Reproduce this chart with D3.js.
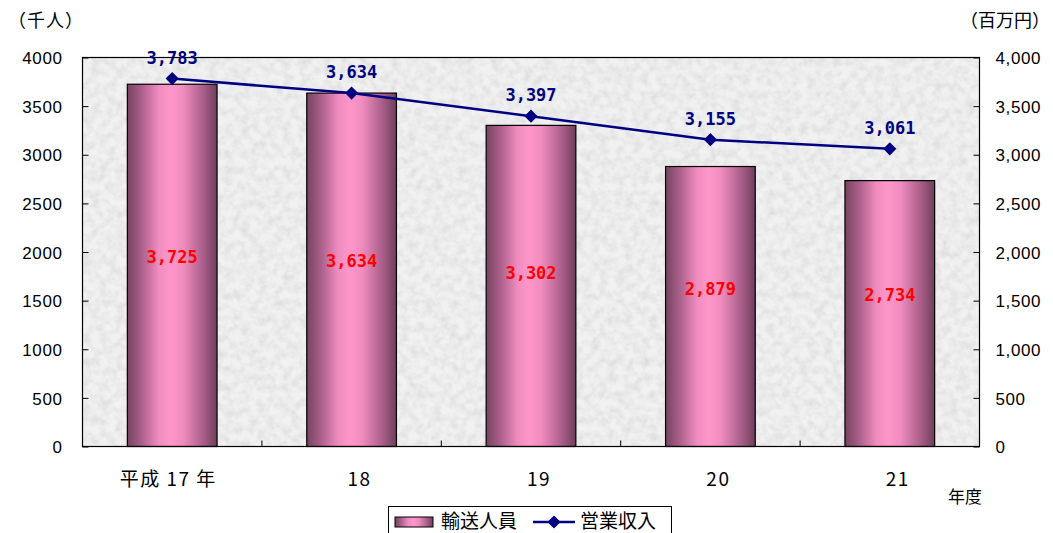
<!DOCTYPE html>
<html lang="ja">
<head>
<meta charset="utf-8">
<script src="https://cdn.jsdelivr.net/npm/d3@7"></script>
<style>
  html, body { margin: 0; padding: 0; background: #fff; }
  svg { display: block; }
  .tick text { font-family: "Liberation Sans", Arial, sans-serif; font-size: 17px; fill: #000; letter-spacing: 0.6px; }
  .jp { font-family: "Noto Sans CJK JP", sans-serif; fill: #000; }
  .lbl { font-family: "DejaVu Sans Mono", monospace; font-weight: bold; font-size: 17px; }
</style>
</head>
<body>
<svg id="chart" width="1053" height="533"></svg>
<script>
// 年度別 輸送人員（千人）と営業収入（百万円）
const years = ["平成 17 年", "18", "19", "20", "21"];
const passengers = [3725, 3634, 3302, 2879, 2734];   // 輸送人員
const revenue = [3783, 3634, 3397, 3155, 3061];      // 営業収入
const leftTicks = [0, 500, 1000, 1500, 2000, 2500, 3000, 3500, 4000];
const rightTicks = [0, 500, 1000, 1500, 2000, 2500, 3000, 3500, 4000];

const svg = d3.select("#chart");
const plot = { left: 82.5, right: 979.5, top: 57.5, bottom: 446.5 };

const x = d3.scaleBand().domain(years).range([plot.left, plot.right]).paddingInner(0.5).paddingOuter(0.25);
const xc = d3.scaleBand().domain(years).range([plot.left, plot.right]);
const yL = d3.scaleLinear().domain([0, 4000]).range([plot.bottom, plot.top]);
const yR = d3.scaleLinear().domain([0, 4000]).range([plot.bottom, plot.top]);

const defs = svg.append("defs");

// granite-like background texture
const f = defs.append("filter").attr("id", "granite").attr("x", 0).attr("y", 0).attr("width", 1).attr("height", 1);
f.append("feTurbulence").attr("type", "fractalNoise").attr("baseFrequency", 0.12).attr("numOctaves", 3).attr("seed", 7).attr("result", "n");
f.append("feColorMatrix").attr("in", "n").attr("type", "matrix")
  .attr("values", "0 0 0 0 0  0 0 0 0 0  0 0 0 0 0  1.4 0 0 0 -0.5").attr("result", "a");
f.append("feFlood").attr("flood-color", "#d6d6d6").attr("result", "c");
f.append("feComposite").attr("in", "c").attr("in2", "a").attr("operator", "in").attr("result", "spots");
f.append("feGaussianBlur").attr("in", "spots").attr("stdDeviation", 0.5).attr("result", "sb");
f.append("feMerge").call(m => { m.append("feMergeNode").attr("in", "SourceGraphic"); m.append("feMergeNode").attr("in", "sb"); });

// cylinder-style gradient for bars
const g = defs.append("linearGradient").attr("id", "barGrad").attr("x1", 0).attr("x2", 1).attr("y1", 0).attr("y2", 0);
[[0, "#76445f"], [0.15, "#a85d88"], [0.35, "#f08cbf"], [0.48, "#ff96ca"], [0.62, "#f08cbf"], [0.85, "#a85d88"], [1, "#6e3f59"]]
  .forEach(([o, c]) => g.append("stop").attr("offset", o).attr("stop-color", c));

// plot area
svg.append("rect")
  .attr("x", plot.left).attr("y", plot.top)
  .attr("width", plot.right - plot.left).attr("height", plot.bottom - plot.top)
  .attr("fill", "#f1f1f1").attr("filter", "url(#granite)");

// bars
svg.append("g").selectAll("rect").data(passengers).join("rect")
  .attr("x", (d, i) => x(years[i]))
  .attr("y", d => yL(d))
  .attr("width", x.bandwidth())
  .attr("height", d => yL(0) - yL(d))
  .attr("fill", "url(#barGrad)")
  .attr("stroke", "#000").attr("stroke-width", 1.2);

// plot border
svg.append("rect")
  .attr("x", plot.left).attr("y", plot.top)
  .attr("width", plot.right - plot.left).attr("height", plot.bottom - plot.top)
  .attr("fill", "none").attr("stroke", "#000").attr("stroke-width", 1.2);

// axes (ticks point inward)
const axL = svg.append("g").attr("transform", `translate(${plot.left},0)`)
  .call(d3.axisLeft(yL).tickValues(leftTicks).tickSize(-6).tickPadding(20).tickFormat(d3.format("d")));
const axR = svg.append("g").attr("transform", `translate(${plot.right},0)`)
  .call(d3.axisRight(yR).tickValues(rightTicks).tickSize(-6).tickPadding(16).tickFormat(d3.format(",")));
const xBreaks = years.slice(1).map(c => xc(c));
svg.append("g").selectAll("line").data(xBreaks).join("line")
  .attr("x1", d => d).attr("x2", d => d)
  .attr("y1", plot.bottom).attr("y2", plot.bottom - 6)
  .attr("stroke", "#000");
[axL, axR].forEach(a => { a.select(".domain").remove(); a.selectAll(".tick line").attr("stroke", "#000"); });
axL.selectAll(".tick text").attr("dy", "0.36em");
axR.selectAll(".tick text").attr("dy", "0.36em");

// category labels
svg.append("g").selectAll("text").data(years).join("text")
  .attr("x", (d, i) => xc(d) + xc.bandwidth() / 2 + (i === 0 ? -4 : 8))
  .attr("y", 486)
  .attr("text-anchor", "middle")
  .attr("class", "jp")
  .style("font-size", "19px")
  .style("letter-spacing", "1.5px")
  .text(d => d);

// line series
const cx = i => xc(years[i]) + xc.bandwidth() / 2;
svg.append("path")
  .datum(revenue)
  .attr("d", d3.line().x((d, i) => cx(i)).y(d => yR(d)))
  .attr("fill", "none").attr("stroke", "#000080").attr("stroke-width", 2.5);
svg.append("g").selectAll("path").data(revenue).join("path")
  .attr("transform", (d, i) => `translate(${cx(i)},${yR(d)})`)
  .attr("d", d3.symbol(d3.symbolDiamond2, 110))
  .attr("fill", "#000080");

// value labels
const fmt = d3.format(",");
svg.append("g").selectAll("text").data(revenue).join("text")
  .attr("class", "lbl")
  .attr("x", (d, i) => cx(i))
  .attr("y", d => yR(d) - 15)
  .attr("text-anchor", "middle")
  .attr("fill", "#000080")
  .text(d => fmt(d));
svg.append("g").selectAll("text").data(passengers).join("text")
  .attr("class", "lbl")
  .attr("x", (d, i) => cx(i))
  .attr("y", d => yL(d * 0.39) - 42)
  .attr("text-anchor", "middle")
  .attr("fill", "#ff0000")
  .text(d => fmt(d));

// axis titles
svg.append("text").attr("class", "jp").attr("x", 8).attr("y", 27).style("font-size", "18px").style("letter-spacing", "1px").text("（千人）");
svg.append("text").attr("class", "jp").attr("x", 960).attr("y", 27).style("font-size", "18px").text("（百万円）");
svg.append("text").attr("class", "jp").attr("x", 948).attr("y", 503).style("font-size", "17px").text("年度");

// legend
const lg = svg.append("g");
lg.append("rect").attr("x", 388.5).attr("y", 506.5).attr("width", 283).attr("height", 40)
  .attr("fill", "#fff").attr("stroke", "#000");
lg.append("rect").attr("x", 395).attr("y", 517).attr("width", 38).attr("height", 10)
  .attr("fill", "url(#barGrad)").attr("stroke", "#000");
lg.append("text").attr("class", "jp").attr("x", 441).attr("y", 528).style("font-size", "19px").text("輸送人員");
lg.append("line").attr("x1", 533).attr("x2", 575).attr("y1", 522).attr("y2", 522)
  .attr("stroke", "#000080").attr("stroke-width", 2.5);
lg.append("path").attr("transform", "translate(554,522)").attr("d", d3.symbol(d3.symbolDiamond2, 110)).attr("fill", "#000080");
lg.append("text").attr("class", "jp").attr("x", 580).attr("y", 528).style("font-size", "19px").text("営業収入");
</script>
</body>
</html>
